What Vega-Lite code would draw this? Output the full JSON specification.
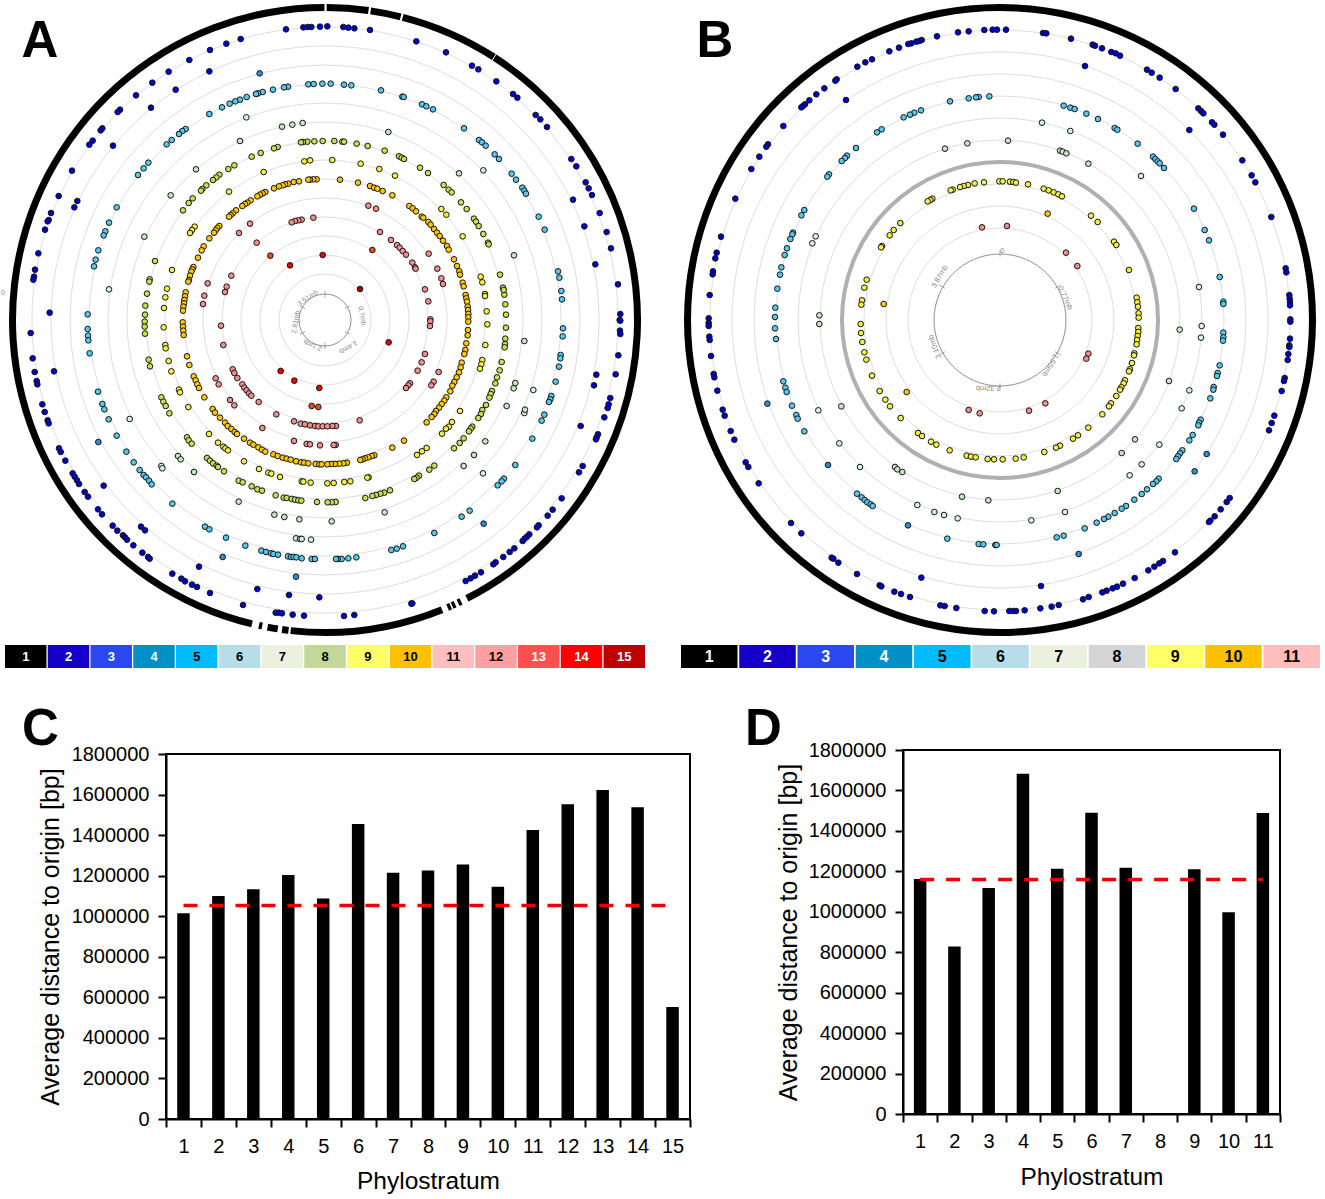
{"$schema":"https://vega.github.io/schema/vega-lite/v6.json","padding":0,"background":"white","spacing":0,
"config":{"font":"Liberation Sans","view":{"stroke":null},"concat":{"spacing":0},"text":{"font":"Liberation Sans"}},
"datasets":{
"seg":[{"a":0.3,"b":8},{"a":8.4,"b":14},{"a":14.4,"b":32.7},{"a":32.85,"b":153},{"a":154.2,"b":154.8},{"a":155.4,"b":156},{"a":156.3,"b":156.9},{"a":158,"b":186.3},{"a":186.7,"b":187.9},{"a":188.7,"b":190.6},{"a":191.6,"b":192.2},{"a":193.5,"b":359.9}],
"segB":[{"a":0,"b":360}],
"ringA":[{"r":293},{"r":274},{"r":255},{"r":236},{"r":217},{"r":198},{"r":179},{"r":160},{"r":141},{"r":122},{"r":103},{"r":84},{"r":65},{"r":46}],
"ringB":[{"r":290},{"r":268},{"r":246},{"r":224},{"r":202},{"r":180},{"r":136},{"r":114},{"r":92}],
"ticksA":[{"x":975,"y":873,"x2":975,"y2":892},{"x":1050,"y":917,"x2":1034,"y2":926},{"x":1050,"y":1003,"x2":1034,"y2":994},{"x":975,"y":1047,"x2":975,"y2":1028},{"x":900,"y":1003,"x2":916,"y2":994},{"x":900,"y":917,"x2":916,"y2":926}],
"ticksB":[{"x":975,"y":750,"x2":975,"y2":770},{"x":1140,"y":865,"x2":1157,"y2":855},{"x":1140,"y":1055,"x2":1157,"y2":1065},{"x":975,"y":1150,"x2":975,"y2":1170},{"x":810,"y":1055,"x2":793,"y2":1065},{"x":810,"y":865,"x2":793,"y2":855}],
"labA":[{"x":9,"y":879,"t":"0","rot":0},{"x":1086,"y":948,"t":"0.7mb","rot":80},{"x":1045,"y":1041,"t":"1.4mb","rot":150},{"x":938,"y":1035,"t":"2.1mb","rot":205},{"x":888,"y":966,"t":"2.81mb","rot":280},{"x":924,"y":894,"t":"3.51mb","rot":325}],
"labB":[{"x":982,"y":752,"t":"0","rot":0},{"x":1170,"y":894,"t":"0.77mb","rot":65},{"x":1125,"y":1095,"t":"1.55mb","rot":120},{"x":940,"y":1165,"t":"2.32mb","rot":180},{"x":780,"y":1040,"t":"3.10mb","rot":250},{"x":795,"y":830,"t":"3.87mb","rot":300}],
"letA":[{"x":120,"y":125,"t":"A"}],
"letB":[{"x":120,"y":125,"t":"B"}],
"a":[
{"x":858,"y":88,"s":2},{"x":910,"y":82,"s":2},{"x":923,"y":81,"s":2},{"x":934,"y":81,"s":2},{"x":960,"y":80,"s":2},{"x":722,"y":117,"s":2},{"x":679,"y":131,"s":2},{"x":630,"y":150,"s":2},{"x":568,"y":180,"s":2},{"x":506,"y":215,"s":2},{"x":628,"y":214,"s":2},{"x":457,"y":248,"s":2},{"x":527,"y":269,"s":2},{"x":408,"y":286,"s":2},{"x":453,"y":323,"s":2},{"x":360,"y":329,"s":2},{"x":353,"y":336,"s":2},{"x":307,"y":385,"s":2},{"x":302,"y":391,"s":2},{"x":278,"y":422,"s":2},{"x":268,"y":434,"s":2},{"x":339,"y":437,"s":2},{"x":216,"y":512,"s":2},{"x":176,"y":588,"s":2},{"x":232,"y":603,"s":2},{"x":223,"y":622,"s":2},{"x":153,"y":639,"s":2},{"x":146,"y":660,"s":2},{"x":143,"y":664,"s":2},{"x":135,"y":689,"s":2},{"x":115,"y":760,"s":2},{"x":105,"y":809,"s":2},{"x":102,"y":830,"s":2},{"x":100,"y":839,"s":2},{"x":149,"y":938,"s":2},
{"x":982,"y":79,"s":2},{"x":1030,"y":81,"s":2},{"x":1045,"y":83,"s":2},{"x":1063,"y":85,"s":2},{"x":1110,"y":90,"s":2},{"x":1249,"y":124,"s":2},{"x":1338,"y":157,"s":2},{"x":1416,"y":197,"s":2},{"x":1435,"y":208,"s":2},{"x":1489,"y":244,"s":2},{"x":1539,"y":282,"s":2},{"x":1552,"y":293,"s":2},{"x":1607,"y":345,"s":2},{"x":1621,"y":358,"s":2},{"x":1641,"y":381,"s":2},{"x":1714,"y":477,"s":2},{"x":1729,"y":499,"s":2},{"x":1757,"y":547,"s":2},{"x":1766,"y":565,"s":2},{"x":1776,"y":585,"s":2},{"x":1719,"y":599,"s":2},{"x":1799,"y":639,"s":2},{"x":1753,"y":679,"s":2},{"x":1820,"y":696,"s":2},{"x":1833,"y":745,"s":2},{"x":1786,"y":793,"s":2},{"x":1854,"y":853,"s":2},{"x":1861,"y":942,"s":2},{"x":1859,"y":960,"s":2},
{"x":92,"y":999,"s":2},{"x":98,"y":1075,"s":2},{"x":104,"y":1116,"s":2},{"x":110,"y":1143,"s":2},{"x":112,"y":1153,"s":2},{"x":162,"y":1114,"s":2},{"x":127,"y":1213,"s":2},{"x":134,"y":1236,"s":2},{"x":143,"y":1261,"s":2},{"x":146,"y":1270,"s":2},{"x":177,"y":1345,"s":2},{"x":182,"y":1356,"s":2},{"x":196,"y":1382,"s":2},{"x":218,"y":1420,"s":2},{"x":224,"y":1430,"s":2},{"x":231,"y":1441,"s":2},{"x":237,"y":1452,"s":2},{"x":254,"y":1476,"s":2},{"x":264,"y":1490,"s":2},{"x":311,"y":1457,"s":2},{"x":294,"y":1528,"s":2},{"x":306,"y":1543,"s":2},{"x":338,"y":1577,"s":2},{"x":352,"y":1592,"s":2},{"x":369,"y":1606,"s":2},{"x":375,"y":1612,"s":2},{"x":381,"y":1619,"s":2},{"x":400,"y":1636,"s":2},{"x":423,"y":1580,"s":2},{"x":435,"y":1591,"s":2},{"x":427,"y":1658,"s":2},{"x":444,"y":1671,"s":2},{"x":449,"y":1676,"s":2},{"x":517,"y":1721,"s":2},{"x":597,"y":1700,"s":2},{"x":544,"y":1736,"s":2},{"x":555,"y":1744,"s":2},{"x":576,"y":1754,"s":2},{"x":591,"y":1761,"s":2},{"x":630,"y":1779,"s":2},{"x":772,"y":1767,"s":2},{"x":729,"y":1815,"s":2},{"x":867,"y":1785,"s":2},{"x":827,"y":1838,"s":2},{"x":836,"y":1838,"s":2},{"x":846,"y":1840,"s":2},{"x":878,"y":1844,"s":2},{"x":912,"y":1847,"s":2},{"x":958,"y":1792,"s":2},
{"x":1861,"y":962,"s":2},{"x":1860,"y":992,"s":2},{"x":1861,"y":1002,"s":2},{"x":1855,"y":1066,"s":2},{"x":1789,"y":1124,"s":2},{"x":1847,"y":1123,"s":2},{"x":1782,"y":1156,"s":2},{"x":1831,"y":1194,"s":2},{"x":1826,"y":1213,"s":2},{"x":1823,"y":1224,"s":2},{"x":1813,"y":1252,"s":2},{"x":1742,"y":1278,"s":2},{"x":1794,"y":1303,"s":2},{"x":1790,"y":1312,"s":2},{"x":1788,"y":1318,"s":2},{"x":1748,"y":1398,"s":2},{"x":1737,"y":1417,"s":2},{"x":1685,"y":1495,"s":2},{"x":1658,"y":1529,"s":2},{"x":1643,"y":1547,"s":2},{"x":1616,"y":1576,"s":2},{"x":1611,"y":1582,"s":2},{"x":1588,"y":1603,"s":2},{"x":1581,"y":1610,"s":2},{"x":1574,"y":1616,"s":2},{"x":1568,"y":1623,"s":2},{"x":1543,"y":1645,"s":2},{"x":1529,"y":1656,"s":2},{"x":1510,"y":1671,"s":2},{"x":1487,"y":1687,"s":2},{"x":1480,"y":1693,"s":2},{"x":1443,"y":1717,"s":2},{"x":1425,"y":1727,"s":2},{"x":1412,"y":1735,"s":2},{"x":1397,"y":1743,"s":2},{"x":1237,"y":1810,"s":2},{"x":1234,"y":1811,"s":2},{"x":1063,"y":1845,"s":2},{"x":1032,"y":1848,"s":2},
{"x":779,"y":220,"s":4},{"x":295,"y":1326,"s":4},{"x":668,"y":1671,"s":4},{"x":888,"y":1730,"s":4},{"x":1451,"y":1571,"s":4},
{"x":925,"y":253,"s":5},{"x":941,"y":252,"s":5},{"x":967,"y":251,"s":5},{"x":864,"y":260,"s":5},{"x":852,"y":262,"s":5},{"x":819,"y":269,"s":5},{"x":788,"y":276,"s":5},{"x":774,"y":280,"s":5},{"x":768,"y":282,"s":5},{"x":740,"y":291,"s":5},{"x":720,"y":299,"s":5},{"x":706,"y":304,"s":5},{"x":689,"y":311,"s":5},{"x":666,"y":322,"s":5},{"x":628,"y":342,"s":5},{"x":557,"y":387,"s":5},{"x":547,"y":393,"s":5},{"x":537,"y":402,"s":5},{"x":515,"y":420,"s":5},{"x":500,"y":433,"s":5},{"x":445,"y":488,"s":5},{"x":431,"y":505,"s":5},{"x":414,"y":525,"s":5},{"x":350,"y":622,"s":5},{"x":327,"y":668,"s":5},{"x":316,"y":694,"s":5},{"x":311,"y":706,"s":5},{"x":295,"y":751,"s":5},{"x":287,"y":779,"s":5},{"x":282,"y":799,"s":5},{"x":263,"y":943,"s":5},
{"x":992,"y":251,"s":5},{"x":1032,"y":254,"s":5},{"x":1054,"y":256,"s":5},{"x":1143,"y":271,"s":5},{"x":1207,"y":290,"s":5},{"x":1211,"y":291,"s":5},{"x":1266,"y":313,"s":5},{"x":1279,"y":319,"s":5},{"x":1299,"y":328,"s":5},{"x":1392,"y":385,"s":5},{"x":1437,"y":420,"s":5},{"x":1446,"y":427,"s":5},{"x":1457,"y":437,"s":5},{"x":1484,"y":463,"s":5},{"x":1497,"y":477,"s":5},{"x":1535,"y":521,"s":5},{"x":1548,"y":539,"s":5},{"x":1567,"y":563,"s":5},{"x":1573,"y":572,"s":5},{"x":1578,"y":581,"s":5},{"x":1616,"y":650,"s":5},{"x":1634,"y":689,"s":5},{"x":1674,"y":814,"s":5},{"x":1678,"y":833,"s":5},{"x":1684,"y":873,"s":5},{"x":1686,"y":898,"s":5},
{"x":263,"y":987,"s":5},{"x":264,"y":1007,"s":5},{"x":265,"y":1021,"s":5},{"x":269,"y":1060,"s":5},{"x":294,"y":1175,"s":5},{"x":307,"y":1212,"s":5},{"x":313,"y":1228,"s":5},{"x":326,"y":1258,"s":5},{"x":350,"y":1307,"s":5},{"x":379,"y":1355,"s":5},{"x":401,"y":1387,"s":5},{"x":419,"y":1410,"s":5},{"x":431,"y":1425,"s":5},{"x":438,"y":1432,"s":5},{"x":447,"y":1442,"s":5},{"x":455,"y":1453,"s":5},{"x":517,"y":1511,"s":5},{"x":615,"y":1580,"s":5},{"x":628,"y":1588,"s":5},{"x":678,"y":1613,"s":5},{"x":736,"y":1637,"s":5},{"x":784,"y":1652,"s":5},{"x":798,"y":1656,"s":5},{"x":813,"y":1660,"s":5},{"x":820,"y":1662,"s":5},{"x":834,"y":1664,"s":5},{"x":864,"y":1669,"s":5},{"x":873,"y":1671,"s":5},{"x":881,"y":1671,"s":5},{"x":889,"y":1672,"s":5},{"x":905,"y":1675,"s":5},{"x":935,"y":1677,"s":5},{"x":945,"y":1677,"s":5},
{"x":1689,"y":985,"s":5},{"x":1688,"y":1009,"s":5},{"x":1682,"y":1065,"s":5},{"x":1681,"y":1075,"s":5},{"x":1677,"y":1100,"s":5},{"x":1667,"y":1145,"s":5},{"x":1654,"y":1188,"s":5},{"x":1651,"y":1198,"s":5},{"x":1647,"y":1206,"s":5},{"x":1633,"y":1244,"s":5},{"x":1625,"y":1262,"s":5},{"x":1597,"y":1316,"s":5},{"x":1546,"y":1395,"s":5},{"x":1512,"y":1436,"s":5},{"x":1505,"y":1444,"s":5},{"x":1493,"y":1456,"s":5},{"x":1409,"y":1532,"s":5},{"x":1385,"y":1550,"s":5},{"x":1303,"y":1599,"s":5},{"x":1209,"y":1639,"s":5},{"x":1190,"y":1646,"s":5},{"x":1174,"y":1650,"s":5},{"x":1069,"y":1672,"s":5},{"x":1045,"y":1675,"s":5},{"x":1025,"y":1677,"s":5},{"x":1013,"y":1677,"s":5},{"x":1008,"y":1677,"s":5},
{"x":739,"y":352,"s":6},{"x":327,"y":868,"s":6},{"x":1450,"y":511,"s":6},{"x":389,"y":1257,"s":6},{"x":484,"y":1398,"s":6},{"x":487,"y":1405,"s":6},{"x":888,"y":1615,"s":6},{"x":900,"y":1617,"s":6},{"x":905,"y":1617,"s":6},{"x":933,"y":1619,"s":6},{"x":1600,"y":1170,"s":6},{"x":1449,"y":1420,"s":6},{"x":1573,"y":1239,"s":6},
{"x":908,"y":369,"s":7},{"x":877,"y":374,"s":7},{"x":846,"y":380,"s":7},{"x":720,"y":423,"s":7},{"x":588,"y":508,"s":7},{"x":512,"y":586,"s":7},{"x":433,"y":710,"s":7},{"x":1165,"y":396,"s":7},{"x":1377,"y":520,"s":7},{"x":1542,"y":766,"s":7},{"x":534,"y":1368,"s":7},{"x":542,"y":1378,"s":7},{"x":582,"y":1416,"s":7},{"x":716,"y":1505,"s":7},{"x":823,"y":1544,"s":7},{"x":853,"y":1551,"s":7},{"x":898,"y":1558,"s":7},{"x":1573,"y":1023,"s":7},{"x":1546,"y":1149,"s":7},{"x":1541,"y":1165,"s":7},{"x":1520,"y":1218,"s":7},{"x":1456,"y":1324,"s":7},{"x":1422,"y":1365,"s":7},{"x":1391,"y":1398,"s":7},{"x":1154,"y":1537,"s":7},{"x":995,"y":1564,"s":7},{"x":1575,"y":1229,"s":7},
{"x":968,"y":423,"s":8},{"x":943,"y":424,"s":8},{"x":922,"y":425,"s":8},{"x":909,"y":426,"s":8},{"x":903,"y":427,"s":8},{"x":833,"y":441,"s":8},{"x":822,"y":445,"s":8},{"x":782,"y":459,"s":8},{"x":755,"y":470,"s":8},{"x":703,"y":496,"s":8},{"x":685,"y":507,"s":8},{"x":658,"y":524,"s":8},{"x":649,"y":532,"s":8},{"x":639,"y":540,"s":8},{"x":619,"y":556,"s":8},{"x":607,"y":567,"s":8},{"x":603,"y":572,"s":8},{"x":578,"y":595,"s":8},{"x":566,"y":609,"s":8},{"x":549,"y":631,"s":8},{"x":465,"y":783,"s":8},{"x":449,"y":838,"s":8},{"x":448,"y":845,"s":8},{"x":441,"y":881,"s":8},{"x":436,"y":917,"s":8},{"x":435,"y":944,"s":8},
{"x":1003,"y":423,"s":8},{"x":1027,"y":425,"s":8},{"x":1032,"y":425,"s":8},{"x":1070,"y":431,"s":8},{"x":1103,"y":438,"s":8},{"x":1154,"y":452,"s":8},{"x":1197,"y":469,"s":8},{"x":1205,"y":473,"s":8},{"x":1212,"y":477,"s":8},{"x":1260,"y":503,"s":8},{"x":1284,"y":519,"s":8},{"x":1331,"y":555,"s":8},{"x":1346,"y":569,"s":8},{"x":1355,"y":577,"s":8},{"x":1383,"y":607,"s":8},{"x":1400,"y":627,"s":8},{"x":1422,"y":656,"s":8},{"x":1428,"y":665,"s":8},{"x":1436,"y":678,"s":8},{"x":1450,"y":702,"s":8},{"x":1464,"y":728,"s":8},{"x":1466,"y":733,"s":8},{"x":1500,"y":824,"s":8},{"x":1509,"y":863,"s":8},{"x":1513,"y":884,"s":8},{"x":1516,"y":913,"s":8},{"x":1518,"y":944,"s":8},{"x":1511,"y":870,"s":8},
{"x":434,"y":965,"s":8},{"x":434,"y":980,"s":8},{"x":435,"y":1001,"s":8},{"x":446,"y":1079,"s":8},{"x":450,"y":1099,"s":8},{"x":484,"y":1192,"s":8},{"x":490,"y":1205,"s":8},{"x":497,"y":1218,"s":8},{"x":508,"y":1240,"s":8},{"x":561,"y":1312,"s":8},{"x":566,"y":1321,"s":8},{"x":575,"y":1331,"s":8},{"x":621,"y":1374,"s":8},{"x":630,"y":1382,"s":8},{"x":639,"y":1390,"s":8},{"x":650,"y":1397,"s":8},{"x":654,"y":1401,"s":8},{"x":672,"y":1414,"s":8},{"x":716,"y":1442,"s":8},{"x":728,"y":1447,"s":8},{"x":755,"y":1459,"s":8},{"x":772,"y":1468,"s":8},{"x":786,"y":1472,"s":8},{"x":827,"y":1486,"s":8},{"x":851,"y":1493,"s":8},{"x":860,"y":1494,"s":8},{"x":875,"y":1497,"s":8},{"x":885,"y":1499,"s":8},{"x":895,"y":1501,"s":8},{"x":904,"y":1502,"s":8},{"x":951,"y":1506,"s":8},
{"x":1518,"y":983,"s":8},{"x":1516,"y":1016,"s":8},{"x":1515,"y":1032,"s":8},{"x":1514,"y":1042,"s":8},{"x":1505,"y":1086,"s":8},{"x":1499,"y":1111,"s":8},{"x":1491,"y":1132,"s":8},{"x":1486,"y":1150,"s":8},{"x":1476,"y":1173,"s":8},{"x":1472,"y":1182,"s":8},{"x":1468,"y":1193,"s":8},{"x":1458,"y":1215,"s":8},{"x":1447,"y":1230,"s":8},{"x":1443,"y":1242,"s":8},{"x":1435,"y":1254,"s":8},{"x":1417,"y":1280,"s":8},{"x":1412,"y":1286,"s":8},{"x":1407,"y":1294,"s":8},{"x":1391,"y":1315,"s":8},{"x":1379,"y":1329,"s":8},{"x":1362,"y":1345,"s":8},{"x":1303,"y":1397,"s":8},{"x":1288,"y":1409,"s":8},{"x":1257,"y":1427,"s":8},{"x":1250,"y":1433,"s":8},{"x":1243,"y":1437,"s":8},{"x":1170,"y":1471,"s":8},{"x":1153,"y":1478,"s":8},{"x":1141,"y":1481,"s":8},{"x":1128,"y":1485,"s":8},{"x":1117,"y":1488,"s":8},{"x":1096,"y":1494,"s":8},{"x":1007,"y":1506,"s":8},{"x":995,"y":1507,"s":8},{"x":983,"y":1507,"s":8},
{"x":930,"y":481,"s":9},{"x":913,"y":484,"s":9},{"x":791,"y":516,"s":9},{"x":687,"y":575,"s":9},{"x":584,"y":680,"s":9},{"x":576,"y":690,"s":9},{"x":570,"y":699,"s":9},{"x":516,"y":810,"s":9},{"x":501,"y":866,"s":9},{"x":496,"y":892,"s":9},{"x":492,"y":924,"s":9},
{"x":997,"y":480,"s":9},{"x":1082,"y":491,"s":9},{"x":1138,"y":507,"s":9},{"x":1185,"y":527,"s":9},{"x":1324,"y":627,"s":9},{"x":1339,"y":644,"s":9},{"x":1388,"y":709,"s":9},{"x":1442,"y":830,"s":9},{"x":1447,"y":847,"s":9},{"x":1455,"y":882,"s":9},{"x":1455,"y":888,"s":9},{"x":1460,"y":934,"s":9},
{"x":491,"y":982,"s":9},{"x":496,"y":1035,"s":9},{"x":497,"y":1045,"s":9},{"x":506,"y":1083,"s":9},{"x":514,"y":1114,"s":9},{"x":537,"y":1169,"s":9},{"x":540,"y":1177,"s":9},{"x":565,"y":1221,"s":9},{"x":627,"y":1302,"s":9},{"x":654,"y":1328,"s":9},{"x":670,"y":1340,"s":9},{"x":676,"y":1345,"s":9},{"x":684,"y":1351,"s":9},{"x":732,"y":1384,"s":9},{"x":777,"y":1407,"s":9},{"x":805,"y":1418,"s":9},{"x":814,"y":1421,"s":9},{"x":840,"y":1431,"s":9},{"x":905,"y":1444,"s":9},{"x":910,"y":1445,"s":9},{"x":932,"y":1448,"s":9},
{"x":1462,"y":973,"s":9},{"x":1456,"y":1035,"s":9},{"x":1447,"y":1080,"s":9},{"x":1444,"y":1093,"s":9},{"x":1440,"y":1106,"s":9},{"x":1380,"y":1233,"s":9},{"x":1356,"y":1266,"s":9},{"x":1347,"y":1280,"s":9},{"x":1338,"y":1286,"s":9},{"x":1326,"y":1301,"s":9},{"x":1280,"y":1344,"s":9},{"x":1266,"y":1354,"s":9},{"x":1251,"y":1365,"s":9},{"x":1106,"y":1432,"s":9},{"x":1102,"y":1433,"s":9},{"x":1051,"y":1444,"s":9},{"x":1033,"y":1446,"s":9},{"x":1001,"y":1449,"s":9},{"x":982,"y":1450,"s":9},
{"x":950,"y":538,"s":10},{"x":940,"y":538,"s":10},{"x":930,"y":539,"s":10},{"x":925,"y":539,"s":10},{"x":897,"y":544,"s":10},{"x":881,"y":546,"s":10},{"x":865,"y":551,"s":10},{"x":855,"y":553,"s":10},{"x":848,"y":556,"s":10},{"x":837,"y":559,"s":10},{"x":822,"y":565,"s":10},{"x":796,"y":576,"s":10},{"x":788,"y":580,"s":10},{"x":780,"y":584,"s":10},{"x":772,"y":589,"s":10},{"x":752,"y":601,"s":10},{"x":742,"y":608,"s":10},{"x":735,"y":612,"s":10},{"x":727,"y":618,"s":10},{"x":708,"y":631,"s":10},{"x":698,"y":640,"s":10},{"x":692,"y":645,"s":10},{"x":687,"y":650,"s":10},{"x":658,"y":678,"s":10},{"x":652,"y":684,"s":10},{"x":647,"y":691,"s":10},{"x":642,"y":698,"s":10},{"x":628,"y":715,"s":10},{"x":611,"y":739,"s":10},{"x":605,"y":751,"s":10},{"x":594,"y":773,"s":10},{"x":580,"y":801,"s":10},{"x":577,"y":808,"s":10},{"x":574,"y":815,"s":10},{"x":570,"y":827,"s":10},{"x":567,"y":840,"s":10},{"x":565,"y":845,"s":10},{"x":557,"y":877,"s":10},{"x":555,"y":889,"s":10},{"x":553,"y":900,"s":10},{"x":552,"y":910,"s":10},{"x":550,"y":920,"s":10},{"x":549,"y":932,"s":10},
{"x":1020,"y":539,"s":10},{"x":1074,"y":548,"s":10},{"x":1110,"y":558,"s":10},{"x":1122,"y":563,"s":10},{"x":1132,"y":566,"s":10},{"x":1148,"y":573,"s":10},{"x":1177,"y":586,"s":10},{"x":1228,"y":618,"s":10},{"x":1238,"y":625,"s":10},{"x":1248,"y":634,"s":10},{"x":1265,"y":650,"s":10},{"x":1270,"y":653,"s":10},{"x":1285,"y":666,"s":10},{"x":1292,"y":674,"s":10},{"x":1302,"y":687,"s":10},{"x":1311,"y":698,"s":10},{"x":1319,"y":708,"s":10},{"x":1329,"y":722,"s":10},{"x":1341,"y":738,"s":10},{"x":1346,"y":749,"s":10},{"x":1362,"y":778,"s":10},{"x":1371,"y":798,"s":10},{"x":1378,"y":814,"s":10},{"x":1380,"y":824,"s":10},{"x":1388,"y":848,"s":10},{"x":1391,"y":859,"s":10},{"x":1397,"y":885,"s":10},{"x":1399,"y":895,"s":10},{"x":1401,"y":905,"s":10},{"x":1403,"y":920,"s":10},{"x":1404,"y":930,"s":10},{"x":1405,"y":942,"s":10},{"x":1405,"y":952,"s":10},
{"x":548,"y":967,"s":10},{"x":549,"y":980,"s":10},{"x":550,"y":992,"s":10},{"x":551,"y":1005,"s":10},{"x":561,"y":1069,"s":10},{"x":568,"y":1095,"s":10},{"x":581,"y":1129,"s":10},{"x":587,"y":1141,"s":10},{"x":592,"y":1153,"s":10},{"x":597,"y":1164,"s":10},{"x":613,"y":1192,"s":10},{"x":638,"y":1227,"s":10},{"x":645,"y":1238,"s":10},{"x":660,"y":1253,"s":10},{"x":675,"y":1268,"s":10},{"x":683,"y":1278,"s":10},{"x":694,"y":1287,"s":10},{"x":704,"y":1296,"s":10},{"x":711,"y":1302,"s":10},{"x":732,"y":1316,"s":10},{"x":750,"y":1328,"s":10},{"x":760,"y":1334,"s":10},{"x":775,"y":1342,"s":10},{"x":786,"y":1349,"s":10},{"x":796,"y":1355,"s":10},{"x":820,"y":1363,"s":10},{"x":833,"y":1368,"s":10},{"x":848,"y":1373,"s":10},{"x":860,"y":1376,"s":10},{"x":872,"y":1379,"s":10},{"x":888,"y":1384,"s":10},{"x":903,"y":1387,"s":10},{"x":912,"y":1388,"s":10},{"x":925,"y":1390,"s":10},{"x":947,"y":1392,"s":10},{"x":958,"y":1393,"s":10},{"x":965,"y":1393,"s":10},
{"x":1405,"y":965,"s":10},{"x":1404,"y":990,"s":10},{"x":1403,"y":1006,"s":10},{"x":1399,"y":1030,"s":10},{"x":1396,"y":1050,"s":10},{"x":1393,"y":1062,"s":10},{"x":1385,"y":1088,"s":10},{"x":1382,"y":1102,"s":10},{"x":1377,"y":1117,"s":10},{"x":1370,"y":1132,"s":10},{"x":1363,"y":1146,"s":10},{"x":1357,"y":1157,"s":10},{"x":1351,"y":1174,"s":10},{"x":1339,"y":1192,"s":10},{"x":1333,"y":1202,"s":10},{"x":1325,"y":1212,"s":10},{"x":1317,"y":1223,"s":10},{"x":1308,"y":1233,"s":10},{"x":1303,"y":1242,"s":10},{"x":1295,"y":1251,"s":10},{"x":1280,"y":1267,"s":10},{"x":1212,"y":1322,"s":10},{"x":1177,"y":1343,"s":10},{"x":1123,"y":1366,"s":10},{"x":1115,"y":1368,"s":10},{"x":1105,"y":1372,"s":10},{"x":1095,"y":1375,"s":10},{"x":1088,"y":1378,"s":10},{"x":1081,"y":1380,"s":10},{"x":1041,"y":1388,"s":10},{"x":1030,"y":1390,"s":10},{"x":1018,"y":1391,"s":10},{"x":1005,"y":1392,"s":10},{"x":993,"y":1392,"s":10},{"x":982,"y":1393,"s":10},
{"x":940,"y":653,"s":12},{"x":905,"y":659,"s":12},{"x":895,"y":661,"s":12},{"x":885,"y":663,"s":12},{"x":875,"y":667,"s":12},{"x":750,"y":671,"s":12},{"x":717,"y":699,"s":12},{"x":770,"y":728,"s":12},{"x":694,"y":827,"s":12},{"x":623,"y":850,"s":12},{"x":680,"y":860,"s":12},{"x":675,"y":876,"s":12},{"x":613,"y":887,"s":12},{"x":609,"y":912,"s":12},
{"x":1105,"y":617,"s":12},{"x":1128,"y":626,"s":12},{"x":1140,"y":696,"s":12},{"x":1173,"y":720,"s":12},{"x":1191,"y":735,"s":12},{"x":1199,"y":743,"s":12},{"x":1208,"y":753,"s":12},{"x":1218,"y":764,"s":12},{"x":1286,"y":761,"s":12},{"x":1237,"y":788,"s":12},{"x":1245,"y":802,"s":12},{"x":1247,"y":806,"s":12},{"x":1312,"y":806,"s":12},{"x":1324,"y":835,"s":12},{"x":1329,"y":852,"s":12},{"x":1275,"y":868,"s":12},{"x":1285,"y":904,"s":12},{"x":1291,"y":958,"s":12},
{"x":663,"y":977,"s":12},{"x":670,"y":1035,"s":12},{"x":698,"y":1108,"s":12},{"x":703,"y":1119,"s":12},{"x":712,"y":1134,"s":12},{"x":647,"y":1135,"s":12},{"x":656,"y":1153,"s":12},{"x":727,"y":1153,"s":12},{"x":733,"y":1163,"s":12},{"x":740,"y":1171,"s":12},{"x":747,"y":1180,"s":12},{"x":754,"y":1187,"s":12},{"x":776,"y":1206,"s":12},{"x":690,"y":1200,"s":12},{"x":703,"y":1216,"s":12},{"x":829,"y":1243,"s":12},{"x":787,"y":1284,"s":12},{"x":882,"y":1264,"s":12},{"x":902,"y":1271,"s":12},{"x":915,"y":1273,"s":12},{"x":930,"y":1276,"s":12},{"x":945,"y":1278,"s":12},{"x":955,"y":1279,"s":12},{"x":968,"y":1279,"s":12},{"x":882,"y":1323,"s":12},{"x":920,"y":1332,"s":12},{"x":930,"y":1333,"s":12},{"x":960,"y":1336,"s":12},
{"x":1291,"y":964,"s":12},{"x":1290,"y":978,"s":12},{"x":1275,"y":1062,"s":12},{"x":1265,"y":1087,"s":12},{"x":1253,"y":1112,"s":12},{"x":1316,"y":1116,"s":12},{"x":1301,"y":1145,"s":12},{"x":1294,"y":1156,"s":12},{"x":1230,"y":1150,"s":12},{"x":1225,"y":1156,"s":12},{"x":1218,"y":1164,"s":12},{"x":1079,"y":1261,"s":12},{"x":1008,"y":1278,"s":12},{"x":997,"y":1278,"s":12},{"x":982,"y":1279,"s":12},{"x":1007,"y":1335,"s":12},{"x":1001,"y":1335,"s":12},
{"x":811,"y":767,"s":13},{"x":1117,"y":750,"s":13},{"x":935,"y":1218,"s":13},{"x":955,"y":1221,"s":13},
{"x":968,"y":765,"s":14},{"x":870,"y":796,"s":14},{"x":842,"y":1113,"s":14},{"x":883,"y":1142,"s":14},{"x":958,"y":1164,"s":14},{"x":1166,"y":1027,"s":14},
{"x":1080,"y":867,"s":15}
],
"b":[
{"x":966,"y":89,"s":2},{"x":953,"y":89,"s":2},{"x":928,"y":90,"s":2},{"x":881,"y":94,"s":2},{"x":849,"y":97,"s":2},{"x":786,"y":109,"s":2},{"x":740,"y":120,"s":2},{"x":733,"y":123,"s":2},{"x":724,"y":125,"s":2},{"x":709,"y":130,"s":2},{"x":700,"y":132,"s":2},{"x":672,"y":143,"s":2},{"x":643,"y":154,"s":2},{"x":591,"y":178,"s":2},{"x":571,"y":187,"s":2},{"x":547,"y":200,"s":2},{"x":485,"y":238,"s":2},{"x":481,"y":242,"s":2},{"x":448,"y":265,"s":2},{"x":424,"y":283,"s":2},{"x":403,"y":301,"s":2},{"x":513,"y":300,"s":2},{"x":390,"y":313,"s":2},{"x":384,"y":318,"s":2},{"x":379,"y":322,"s":2},{"x":325,"y":378,"s":2},{"x":279,"y":433,"s":2},{"x":274,"y":440,"s":2},{"x":253,"y":470,"s":2},{"x":229,"y":507,"s":2},{"x":181,"y":596,"s":2},{"x":138,"y":710,"s":2},{"x":125,"y":758,"s":2},{"x":121,"y":775,"s":2},{"x":114,"y":814,"s":2},{"x":113,"y":823,"s":2},{"x":104,"y":885,"s":2},{"x":101,"y":955,"s":2},
{"x":993,"y":89,"s":2},{"x":1104,"y":99,"s":2},{"x":1114,"y":100,"s":2},{"x":1188,"y":116,"s":2},{"x":1253,"y":134,"s":2},{"x":1260,"y":137,"s":2},{"x":1281,"y":145,"s":2},{"x":1309,"y":156,"s":2},{"x":1322,"y":160,"s":2},{"x":1335,"y":167,"s":2},{"x":1230,"y":198,"s":2},{"x":1416,"y":209,"s":2},{"x":1430,"y":218,"s":2},{"x":1454,"y":233,"s":2},{"x":1502,"y":267,"s":2},{"x":1570,"y":325,"s":2},{"x":1578,"y":333,"s":2},{"x":1585,"y":340,"s":2},{"x":1611,"y":367,"s":2},{"x":1618,"y":374,"s":2},{"x":1644,"y":404,"s":2},{"x":1543,"y":390,"s":2},{"x":1702,"y":481,"s":2},{"x":1730,"y":526,"s":2},{"x":1741,"y":547,"s":2},{"x":1789,"y":651,"s":2},{"x":1832,"y":805,"s":2},{"x":1834,"y":817,"s":2},{"x":1843,"y":885,"s":2},{"x":1844,"y":896,"s":2},{"x":1845,"y":906,"s":2},{"x":1845,"y":916,"s":2},{"x":1846,"y":958,"s":2},
{"x":101,"y":969,"s":2},{"x":101,"y":978,"s":2},{"x":103,"y":1010,"s":2},{"x":104,"y":1020,"s":2},{"x":108,"y":1068,"s":2},{"x":116,"y":1122,"s":2},{"x":118,"y":1132,"s":2},{"x":127,"y":1172,"s":2},{"x":143,"y":1229,"s":2},{"x":149,"y":1247,"s":2},{"x":167,"y":1293,"s":2},{"x":178,"y":1319,"s":2},{"x":212,"y":1387,"s":2},{"x":220,"y":1401,"s":2},{"x":251,"y":1450,"s":2},{"x":348,"y":1569,"s":2},{"x":379,"y":1600,"s":2},{"x":470,"y":1673,"s":2},{"x":475,"y":1676,"s":2},{"x":490,"y":1688,"s":2},{"x":546,"y":1722,"s":2},{"x":739,"y":1733,"s":2},{"x":614,"y":1756,"s":2},{"x":619,"y":1759,"s":2},{"x":658,"y":1775,"s":2},{"x":678,"y":1782,"s":2},{"x":705,"y":1791,"s":2},{"x":796,"y":1816,"s":2},{"x":809,"y":1818,"s":2},{"x":844,"y":1824,"s":2},{"x":929,"y":1833,"s":2},{"x":957,"y":1834,"s":2},
{"x":1846,"y":965,"s":2},{"x":1845,"y":1016,"s":2},{"x":1843,"y":1036,"s":2},{"x":1843,"y":1041,"s":2},{"x":1840,"y":1062,"s":2},{"x":1838,"y":1080,"s":2},{"x":1829,"y":1134,"s":2},{"x":1827,"y":1143,"s":2},{"x":1820,"y":1173,"s":2},{"x":1798,"y":1247,"s":2},{"x":1790,"y":1269,"s":2},{"x":1782,"y":1291,"s":2},{"x":1664,"y":1494,"s":2},{"x":1655,"y":1506,"s":2},{"x":1637,"y":1528,"s":2},{"x":1619,"y":1549,"s":2},{"x":1606,"y":1562,"s":2},{"x":1602,"y":1566,"s":2},{"x":1500,"y":1657,"s":2},{"x":1464,"y":1683,"s":2},{"x":1453,"y":1690,"s":2},{"x":1438,"y":1700,"s":2},{"x":1420,"y":1711,"s":2},{"x":1379,"y":1734,"s":2},{"x":1344,"y":1751,"s":2},{"x":1326,"y":1760,"s":2},{"x":1313,"y":1765,"s":2},{"x":1295,"y":1772,"s":2},{"x":1282,"y":1777,"s":2},{"x":1241,"y":1791,"s":2},{"x":1224,"y":1798,"s":2},{"x":1151,"y":1815,"s":2},{"x":1130,"y":1820,"s":2},{"x":1096,"y":1825,"s":2},{"x":1049,"y":1831,"s":2},{"x":1023,"y":1833,"s":2},{"x":1015,"y":1833,"s":2},{"x":1003,"y":1833,"s":2},{"x":1098,"y":1758,"s":2},
{"x":277,"y":1211,"s":4},{"x":459,"y":1395,"s":4},{"x":699,"y":1576,"s":4},{"x":1595,"y":1362,"s":4},{"x":1559,"y":1414,"s":4},{"x":1211,"y":1662,"s":4},
{"x":943,"y":289,"s":5},{"x":911,"y":291,"s":5},{"x":903,"y":292,"s":5},{"x":881,"y":295,"s":5},{"x":825,"y":304,"s":5},{"x":738,"y":331,"s":5},{"x":718,"y":338,"s":5},{"x":705,"y":344,"s":5},{"x":686,"y":352,"s":5},{"x":620,"y":388,"s":5},{"x":606,"y":397,"s":5},{"x":543,"y":444,"s":5},{"x":516,"y":467,"s":5},{"x":510,"y":474,"s":5},{"x":500,"y":483,"s":5},{"x":462,"y":523,"s":5},{"x":457,"y":530,"s":5},{"x":388,"y":630,"s":5},{"x":379,"y":646,"s":5},{"x":354,"y":698,"s":5},{"x":352,"y":703,"s":5},{"x":346,"y":717,"s":5},{"x":336,"y":745,"s":5},{"x":329,"y":765,"s":5},{"x":319,"y":802,"s":5},{"x":315,"y":824,"s":5},{"x":307,"y":866,"s":5},{"x":301,"y":923,"s":5},{"x":300,"y":951,"s":5},
{"x":1166,"y":317,"s":5},{"x":1186,"y":323,"s":5},{"x":1199,"y":327,"s":5},{"x":1234,"y":341,"s":5},{"x":1269,"y":357,"s":5},{"x":1319,"y":384,"s":5},{"x":1327,"y":389,"s":5},{"x":1388,"y":431,"s":5},{"x":1434,"y":470,"s":5},{"x":1441,"y":477,"s":5},{"x":1448,"y":484,"s":5},{"x":1454,"y":490,"s":5},{"x":1467,"y":504,"s":5},{"x":1557,"y":626,"s":5},{"x":1589,"y":690,"s":5},{"x":1602,"y":721,"s":5},{"x":1634,"y":831,"s":5},{"x":1645,"y":905,"s":5},{"x":1645,"y":912,"s":5},
{"x":300,"y":985,"s":5},{"x":303,"y":1017,"s":5},{"x":325,"y":1144,"s":5},{"x":331,"y":1163,"s":5},{"x":335,"y":1176,"s":5},{"x":351,"y":1217,"s":5},{"x":364,"y":1245,"s":5},{"x":368,"y":1256,"s":5},{"x":388,"y":1294,"s":5},{"x":546,"y":1481,"s":5},{"x":560,"y":1492,"s":5},{"x":569,"y":1500,"s":5},{"x":577,"y":1507,"s":5},{"x":587,"y":1513,"s":5},{"x":593,"y":1518,"s":5},{"x":817,"y":1616,"s":5},{"x":911,"y":1632,"s":5},{"x":925,"y":1633,"s":5},{"x":961,"y":1635,"s":5},{"x":965,"y":1635,"s":5},
{"x":1645,"y":998,"s":5},{"x":1645,"y":1012,"s":5},{"x":1644,"y":1022,"s":5},{"x":1634,"y":1096,"s":5},{"x":1628,"y":1119,"s":5},{"x":1626,"y":1128,"s":5},{"x":1616,"y":1161,"s":5},{"x":1615,"y":1169,"s":5},{"x":1606,"y":1195,"s":5},{"x":1577,"y":1259,"s":5},{"x":1572,"y":1268,"s":5},{"x":1570,"y":1276,"s":5},{"x":1553,"y":1305,"s":5},{"x":1543,"y":1321,"s":5},{"x":1522,"y":1351,"s":5},{"x":1515,"y":1360,"s":5},{"x":1509,"y":1369,"s":5},{"x":1504,"y":1377,"s":5},{"x":1451,"y":1436,"s":5},{"x":1444,"y":1444,"s":5},{"x":1434,"y":1452,"s":5},{"x":1416,"y":1468,"s":5},{"x":1400,"y":1482,"s":5},{"x":1378,"y":1499,"s":5},{"x":1353,"y":1518,"s":5},{"x":1340,"y":1526,"s":5},{"x":1319,"y":1539,"s":5},{"x":1300,"y":1550,"s":5},{"x":1287,"y":1557,"s":5},{"x":1265,"y":1568,"s":5},{"x":1229,"y":1585,"s":5},{"x":1166,"y":1607,"s":5},{"x":1145,"y":1612,"s":5},
{"x":422,"y":709,"s":6},{"x":412,"y":730,"s":6},{"x":1101,"y":368,"s":6},{"x":1186,"y":393,"s":6},{"x":1398,"y":528,"s":6},{"x":1572,"y":861,"s":6},{"x":430,"y":1231,"s":6},{"x":493,"y":1330,"s":6},{"x":555,"y":1401,"s":6},{"x":727,"y":1515,"s":6},{"x":778,"y":1536,"s":6},{"x":807,"y":1545,"s":6},{"x":848,"y":1555,"s":6},{"x":1580,"y":978,"s":6},{"x":1578,"y":1013,"s":6},{"x":1543,"y":1171,"s":6},{"x":1520,"y":1225,"s":6},{"x":1453,"y":1334,"s":6},{"x":1400,"y":1393,"s":6},{"x":1364,"y":1426,"s":6},{"x":1170,"y":1536,"s":6},{"x":1069,"y":1561,"s":6},
{"x":877,"y":430,"s":7},{"x":810,"y":446,"s":7},{"x":433,"y":946,"s":7},{"x":999,"y":422,"s":7},{"x":1155,"y":452,"s":7},{"x":1163,"y":455,"s":7},{"x":1174,"y":460,"s":7},{"x":1240,"y":491,"s":7},{"x":499,"y":1219,"s":7},{"x":660,"y":1401,"s":7},{"x":667,"y":1408,"s":7},{"x":682,"y":1416,"s":7},{"x":861,"y":1490,"s":7},{"x":940,"y":1501,"s":7},{"x":433,"y":972,"s":7},{"x":1514,"y":989,"s":7},{"x":1482,"y":1143,"s":7},{"x":1380,"y":1318,"s":7},{"x":1340,"y":1359,"s":7},{"x":1148,"y":1473,"s":7},
{"x":973,"y":544,"s":9},{"x":927,"y":547,"s":9},{"x":899,"y":550,"s":9},{"x":879,"y":555,"s":9},{"x":866,"y":558,"s":9},{"x":855,"y":561,"s":9},{"x":833,"y":569,"s":9},{"x":827,"y":571,"s":9},{"x":772,"y":596,"s":9},{"x":766,"y":600,"s":9},{"x":758,"y":604,"s":9},{"x":676,"y":669,"s":9},{"x":656,"y":690,"s":9},{"x":644,"y":706,"s":9},{"x":621,"y":738,"s":9},{"x":618,"y":742,"s":9},{"x":575,"y":839,"s":9},{"x":568,"y":863,"s":9},{"x":561,"y":901,"s":9},{"x":559,"y":914,"s":9},
{"x":983,"y":544,"s":9},{"x":1005,"y":545,"s":9},{"x":1015,"y":546,"s":9},{"x":1023,"y":548,"s":9},{"x":1059,"y":553,"s":9},{"x":1106,"y":566,"s":9},{"x":1121,"y":571,"s":9},{"x":1136,"y":577,"s":9},{"x":1150,"y":583,"s":9},{"x":1161,"y":589,"s":9},{"x":1248,"y":647,"s":9},{"x":1268,"y":666,"s":9},{"x":1317,"y":725,"s":9},{"x":1324,"y":735,"s":9},{"x":1362,"y":810,"s":9},{"x":1385,"y":893,"s":9},{"x":1387,"y":907,"s":9},{"x":1389,"y":920,"s":9},{"x":1391,"y":940,"s":9},{"x":1391,"y":953,"s":9},
{"x":557,"y":972,"s":9},{"x":558,"y":999,"s":9},{"x":562,"y":1026,"s":9},{"x":568,"y":1057,"s":9},{"x":574,"y":1079,"s":9},{"x":591,"y":1127,"s":9},{"x":614,"y":1173,"s":9},{"x":631,"y":1199,"s":9},{"x":645,"y":1219,"s":9},{"x":677,"y":1254,"s":9},{"x":729,"y":1299,"s":9},{"x":741,"y":1308,"s":9},{"x":768,"y":1325,"s":9},{"x":784,"y":1334,"s":9},{"x":824,"y":1351,"s":9},{"x":875,"y":1367,"s":9},{"x":888,"y":1370,"s":9},{"x":902,"y":1372,"s":9},{"x":938,"y":1377,"s":9},{"x":957,"y":1378,"s":9},
{"x":1390,"y":984,"s":9},{"x":1390,"y":996,"s":9},{"x":1388,"y":1008,"s":9},{"x":1386,"y":1020,"s":9},{"x":1385,"y":1033,"s":9},{"x":1378,"y":1060,"s":9},{"x":1377,"y":1066,"s":9},{"x":1371,"y":1089,"s":9},{"x":1365,"y":1108,"s":9},{"x":1362,"y":1114,"s":9},{"x":1350,"y":1141,"s":9},{"x":1346,"y":1150,"s":9},{"x":1339,"y":1162,"s":9},{"x":1335,"y":1169,"s":9},{"x":1324,"y":1188,"s":9},{"x":1308,"y":1210,"s":9},{"x":1302,"y":1219,"s":9},{"x":1282,"y":1243,"s":9},{"x":1240,"y":1283,"s":9},{"x":1209,"y":1306,"s":9},{"x":1194,"y":1316,"s":9},{"x":1155,"y":1337,"s":9},{"x":1143,"y":1343,"s":9},{"x":1108,"y":1356,"s":9},{"x":1046,"y":1372,"s":9},{"x":1022,"y":1376,"s":9},{"x":983,"y":1378,"s":9},
{"x":626,"y":912,"s":10},{"x":1118,"y":641,"s":10},{"x":695,"y":1176,"s":10},
{"x":921,"y":682,"s":12},{"x":996,"y":678,"s":12},{"x":1173,"y":758,"s":12},{"x":1207,"y":798,"s":12},{"x":881,"y":1230,"s":12},{"x":914,"y":1240,"s":12},{"x":1240,"y":1061,"s":12},{"x":1234,"y":1076,"s":12},{"x":1111,"y":1210,"s":12},{"x":1062,"y":1232,"s":12}
],
"stripA":[{"s":1},{"s":2},{"s":3},{"s":4},{"s":5},{"s":6},{"s":7},{"s":8},{"s":9},{"s":10},{"s":11},{"s":12},{"s":13},{"s":14},{"s":15}],
"stripB":[{"s":1},{"s":2},{"s":3},{"s":4},{"s":5},{"s":6},{"s":7},{"s":8},{"s":9},{"s":10},{"s":11}],
"barC":[{"p":1,"v":1015000},{"p":2,"v":1100000},{"p":3,"v":1133000},{"p":4,"v":1203000},{"p":5,"v":1088000},{"p":6,"v":1455000},{"p":7,"v":1215000},{"p":8,"v":1225000},{"p":9,"v":1255000},{"p":10,"v":1145000},{"p":11,"v":1425000},{"p":12,"v":1552000},{"p":13,"v":1622000},{"p":14,"v":1537000},{"p":15,"v":552000}],
"barD":[{"p":1,"v":1162000},{"p":2,"v":828000},{"p":3,"v":1118000},{"p":4,"v":1683000},{"p":5,"v":1213000},{"p":6,"v":1490000},{"p":7,"v":1218000},{"p":9,"v":1210000},{"p":10,"v":998000},{"p":11,"v":1488000}],
"meanC":[{"p":1,"v":1053000},{"p":15,"v":1053000}],
"meanD":[{"p":1,"v":1160000},{"p":11,"v":1160000}]
},
"vconcat":[
{"spacing":25,"hconcat":[
{"width":650,"height":640,"layer":[
{"data":{"name":"ringA"},"mark":{"type":"point","filled":false,"stroke":"#dedede","strokeWidth":1,"opacity":1},"encoding":{"x":{"datum":975,"type":"quantitative","scale":{"domain":[0,1950],"nice":false,"zero":false},"axis":null},"y":{"datum":960,"type":"quantitative","scale":{"domain":[1920,0],"nice":false,"zero":false},"axis":null},"size":{"field":"r","type":"quantitative","legend":null,"scale":{"type":"pow","exponent":2,"domain":[0,320],"range":[0,409600]}}}},
{"data":{"name":"seg"},"mark":{"type":"arc","radius":316,"radius2":309,"fill":"black"},"encoding":{"theta":{"field":"a","type":"quantitative","scale":{"domain":[0,360]}},"theta2":{"field":"b"}}},
{"data":{"values":[{"r":26}]},"mark":{"type":"point","filled":false,"stroke":"#909090","strokeWidth":1,"opacity":1},"encoding":{"x":{"datum":975,"type":"quantitative"},"y":{"datum":960,"type":"quantitative"},"size":{"field":"r","type":"quantitative","legend":null,"scale":{"type":"pow","exponent":2,"domain":[0,320],"range":[0,409600]}}}},
{"data":{"name":"ticksA"},"mark":{"type":"rule","stroke":"#909090","strokeWidth":0.8},"encoding":{"x":{"field":"x","type":"quantitative"},"y":{"field":"y","type":"quantitative"},"x2":{"field":"x2"},"y2":{"field":"y2"}}},
{"data":{"name":"a"},"mark":{"type":"point","filled":true,"stroke":"#151515","strokeWidth":1,"opacity":1,"size":32},"encoding":{"x":{"field":"x","type":"quantitative"},"y":{"field":"y","type":"quantitative"},"fill":{"field":"s","type":"ordinal","legend":null,"scale":{"domain":[2,4,5,6,7,8,9,10,12,13,14,15],"range":["#0000cc","#2a8fd8","#55c8ee","#d6f2ee","#c4e8bf","#c2e24e","#f4f040","#ffc800","#f28e8e","#e8500a","#f00000","#b00000"]}}}},
{"data":{"name":"labA"},"mark":{"type":"text","fontSize":7,"color":"#8a8a8a"},"encoding":{"x":{"field":"x","type":"quantitative"},"y":{"field":"y","type":"quantitative"},"text":{"field":"t"},"angle":{"field":"rot","type":"quantitative","scale":null}}},
{"data":{"name":"letA"},"mark":{"type":"text","fontSize":51,"fontWeight":"bold","color":"black","baseline":"middle"},"encoding":{"x":{"field":"x","type":"quantitative"},"y":{"field":"y","type":"quantitative"},"text":{"field":"t"}}}
]},
{"width":650,"height":640,"layer":[
{"data":{"name":"ringB"},"mark":{"type":"point","filled":false,"stroke":"#dedede","strokeWidth":1,"opacity":1},"encoding":{"x":{"datum":975,"type":"quantitative","scale":{"domain":[0,1950],"nice":false,"zero":false},"axis":null},"y":{"datum":960,"type":"quantitative","scale":{"domain":[1920,0],"nice":false,"zero":false},"axis":null},"size":{"field":"r","type":"quantitative","legend":null,"scale":{"type":"pow","exponent":2,"domain":[0,320],"range":[0,409600]}}}},
{"data":{"values":[{"r":158}]},"mark":{"type":"point","filled":false,"stroke":"#b0b0b0","strokeWidth":4,"opacity":1},"encoding":{"x":{"datum":975,"type":"quantitative"},"y":{"datum":960,"type":"quantitative"},"size":{"field":"r","type":"quantitative","legend":null,"scale":{"type":"pow","exponent":2,"domain":[0,320],"range":[0,409600]}}}},
{"data":{"name":"segB"},"mark":{"type":"arc","radius":316,"radius2":309,"fill":"black"},"encoding":{"theta":{"field":"a","type":"quantitative","scale":{"domain":[0,360]}},"theta2":{"field":"b"}}},
{"data":{"values":[{"r":66}]},"mark":{"type":"point","filled":false,"stroke":"#909090","strokeWidth":1,"opacity":1},"encoding":{"x":{"datum":975,"type":"quantitative"},"y":{"datum":960,"type":"quantitative"},"size":{"field":"r","type":"quantitative","legend":null,"scale":{"type":"pow","exponent":2,"domain":[0,320],"range":[0,409600]}}}},
{"data":{"name":"ticksB"},"mark":{"type":"rule","stroke":"#909090","strokeWidth":0.8},"encoding":{"x":{"field":"x","type":"quantitative"},"y":{"field":"y","type":"quantitative"},"x2":{"field":"x2"},"y2":{"field":"y2"}}},
{"data":{"name":"b"},"mark":{"type":"point","filled":true,"stroke":"#151515","strokeWidth":1,"opacity":1,"size":32},"encoding":{"x":{"field":"x","type":"quantitative"},"y":{"field":"y","type":"quantitative"},"fill":{"field":"s","type":"ordinal","legend":null,"scale":{"domain":[2,4,5,6,7,9,10,12],"range":["#0000cc","#2a8fd8","#55c8ee","#d6f2ee","#c4e8bf","#f4f040","#ffc800","#f28e8e"]}}}},
{"data":{"name":"labB"},"mark":{"type":"text","fontSize":7.5,"color":"#8a8a8a"},"encoding":{"x":{"field":"x","type":"quantitative"},"y":{"field":"y","type":"quantitative"},"text":{"field":"t"},"angle":{"field":"rot","type":"quantitative","scale":null}}},
{"data":{"name":"letB"},"mark":{"type":"text","fontSize":51,"fontWeight":"bold","color":"black","baseline":"middle"},"encoding":{"x":{"field":"x","type":"quantitative"},"y":{"field":"y","type":"quantitative"},"text":{"field":"t"}}}
]}
]},
{"data":{"values":[]},"mark":"rect","width":1,"height":5},
{"spacing":25,"hconcat":[
{"data":{"name":"stripA"},"width":650,"height":23,"encoding":{"x":{"field":"s","type":"ordinal","axis":null,"scale":{"type":"band","range":[5,645],"paddingInner":0.03,"paddingOuter":0}}},"layer":[
{"mark":"rect","encoding":{"color":{"field":"s","type":"ordinal","legend":null,"scale":{"domain":[1,2,3,4,5,6,7,8,9,10,11,12,13,14,15],"range":["#000000","#1400c8","#2a48f0","#0090c8","#00bcff","#b7dde8","#ebf1de","#c4d79b","#ffff66","#ffc000","#ffbdbd","#ff9f9f","#ff5050","#ff0000","#c00000"]}}}},
{"mark":{"type":"text","fontSize":13,"fontWeight":"bold"},"encoding":{"text":{"field":"s"},"color":{"field":"s","type":"ordinal","legend":null,"scale":{"domain":[1,2,3,4,5,6,7,8,9,10,11,12,13,14,15],"range":["white","white","white","white","black","black","black","black","black","black","black","black","white","white","white"]}}}}
],"resolve":{"scale":{"color":"independent"}}},
{"data":{"name":"stripB"},"width":650,"height":23,"encoding":{"x":{"field":"s","type":"ordinal","axis":null,"scale":{"type":"band","range":[6,645],"paddingInner":0.03,"paddingOuter":0}}},"layer":[
{"mark":"rect","encoding":{"color":{"field":"s","type":"ordinal","legend":null,"scale":{"domain":[1,2,3,4,5,6,7,8,9,10,11],"range":["#000000","#1400c8","#2a48f0","#0090c8","#00bcff","#b7dde8","#ebf1de","#d4d4d4","#ffff66","#ffc000","#ffbdbd"]}}}},
{"mark":{"type":"text","fontSize":16,"fontWeight":"bold"},"encoding":{"text":{"field":"s"},"color":{"field":"s","type":"ordinal","legend":null,"scale":{"domain":[1,2,3,4,5,6,7,8,9,10,11],"range":["white","white","white","white","black","black","black","black","black","black","black"]}}}}
],"resolve":{"scale":{"color":"independent"}}}
]},
{"data":{"values":[]},"mark":"rect","width":1,"height":34},
{"spacing":0,"hconcat":[
{"data":{"values":[]},"mark":"rect","width":21,"height":1},
{"spacing":0,"vconcat":[
{"data":{"values":[]},"mark":"rect","width":1,"height":1},
{"width":524,"height":365,"view":{"stroke":"black","strokeWidth":2},
"title":{"text":"C","fontSize":51,"fontWeight":"bold","color":"black","anchor":"start","frame":"group","dx":-144,"dy":14,"offset":2},
"encoding":{"x":{"field":"p","type":"ordinal","scale":{"type":"band","paddingInner":0,"paddingOuter":0,"domain":[1,2,3,4,5,6,7,8,9,10,11,12,13,14,15]},"axis":{"title":"Phylostratum","titleFontSize":24.5,"titleFontWeight":"normal","titleColor":"black","labelFontSize":20,"labelColor":"black","labelAngle":0,"tickBand":"extent","tickSize":8,"tickWidth":2,"tickColor":"black","domainColor":"black","domainWidth":2,"labelPadding":9,"titlePadding":13,"grid":false}},"y":{"field":"v","type":"quantitative","scale":{"domain":[0,1800000],"nice":false},"axis":{"title":"Average distance to origin [bp]","titleFontSize":25,"titleFontWeight":"normal","titleColor":"black","labelFontSize":20,"labelColor":"black","values":[0,200000,400000,600000,800000,1000000,1200000,1400000,1600000,1800000],"format":"d","tickSize":8,"tickWidth":2,"tickColor":"black","domainColor":"black","domainWidth":2,"labelPadding":9,"titlePadding":8,"grid":false}}},
"layer":[{"data":{"name":"barC"},"mark":{"type":"bar","width":12.5,"color":"black"}},{"data":{"name":"meanC"},"mark":{"type":"line","color":"#f00000","strokeWidth":3.5,"strokeDash":[14,12]}}]}
]},
{"data":{"values":[]},"mark":"rect","width":52,"height":1},
{"spacing":0,"vconcat":[
{"data":{"values":[]},"mark":"rect","width":1,"height":1},
{"width":377,"height":364,"view":{"stroke":"black","strokeWidth":2},
"title":{"text":"D","fontSize":51,"fontWeight":"bold","color":"black","anchor":"start","frame":"group","dx":-158,"dy":16,"offset":0},
"encoding":{"x":{"field":"p","type":"ordinal","scale":{"type":"band","paddingInner":0,"paddingOuter":0,"domain":[1,2,3,4,5,6,7,8,9,10,11]},"axis":{"title":"Phylostratum","titleFontSize":24.5,"titleFontWeight":"normal","titleColor":"black","labelFontSize":20,"labelColor":"black","labelAngle":0,"tickBand":"extent","tickSize":8,"tickWidth":2,"tickColor":"black","domainColor":"black","domainWidth":2,"labelPadding":9,"titlePadding":14,"grid":false}},"y":{"field":"v","type":"quantitative","scale":{"domain":[0,1800000],"nice":false},"axis":{"title":"Average distance to origin [bp]","titleFontSize":25,"titleFontWeight":"normal","titleColor":"black","labelFontSize":20,"labelColor":"black","values":[0,200000,400000,600000,800000,1000000,1200000,1400000,1600000,1800000],"format":"d","tickSize":8,"tickWidth":2,"tickColor":"black","domainColor":"black","domainWidth":2,"labelPadding":9,"titlePadding":7,"grid":false}}},
"layer":[{"data":{"name":"barD"},"mark":{"type":"bar","width":12.5,"color":"black"}},{"data":{"name":"meanD"},"mark":{"type":"line","color":"#f00000","strokeWidth":3.5,"strokeDash":[14,12]}}]}
]}
]}
]}
